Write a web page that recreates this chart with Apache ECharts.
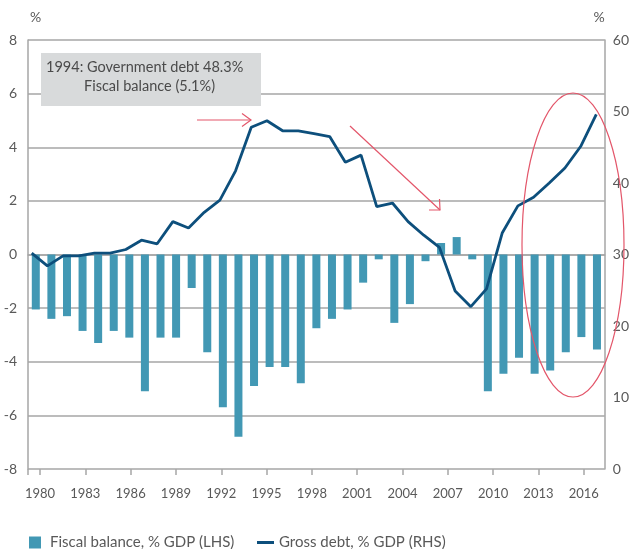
<!DOCTYPE html>
<html>
<head>
<meta charset="utf-8">
<script src="https://cdn.jsdelivr.net/npm/echarts@6/dist/echarts.min.js"></script>
<style>
  html, body { margin: 0; padding: 0; background: #fff; }
  #chart { width: 632px; height: 549px; }
</style>
</head>
<body>
<div id="chart"></div>
<script>
var years = [1980, 1981, 1982, 1983, 1984, 1985, 1986, 1987, 1988, 1989,
  1990, 1991, 1992, 1993, 1994, 1995, 1996, 1997, 1998, 1999,
  2000, 2001, 2002, 2003, 2004, 2005, 2006, 2007, 2008, 2009,
  2010, 2011, 2012, 2013, 2014, 2015, 2016]

// fiscal balance, % GDP (left axis)
var fiscalBalance = [-2.05, -2.4, -2.3, -2.85, -3.3, -2.85, -3.1, -5.1, -3.1, -3.1,
  -1.25, -3.65, -5.7, -6.8, -4.9, -4.2, -4.2, -4.8, -2.75, -2.4,
  -2.05, -1.05, -0.18, -2.55, -1.85, -0.25, 0.43, 0.65, -0.18, -5.1,
  -4.45, -3.85, -4.45, -4.33, -3.65, -3.08, -3.54]

// gross debt, % GDP (right axis)
var grossDebt = [30.2, 28.4, 29.8, 29.8, 30.2, 30.2, 30.7, 32.0, 31.5, 34.6,
  33.7, 35.9, 37.6, 41.7, 47.8, 48.7, 47.3, 47.3, 46.9, 46.5,
  42.9, 43.9, 36.7, 37.2, 34.6, 32.7, 31.0, 24.9, 22.7, 25.2,
  33.0, 36.8, 38.0, 40.0, 42.1, 45.1, 49.6]

var tickYears = [1980, 1983, 1986, 1989, 1992, 1995, 1998, 2001, 2004, 2007, 2010, 2013, 2016]

var barName = 'Fiscal balance, % GDP (LHS)'
var lineName = 'Gross debt, % GDP (RHS)'

var font = 'Lato, "Noto Sans", sans-serif'
var textColor = '#595959'
var axisGray = '#a6a6a6'
var red = '#e3566a'

var labelMin = 1979.206
var labelMax = 2017.39

var myChart = echarts.init(document.getElementById('chart'))

var option = {
  animation: false,
  textStyle: { fontFamily: font },
  grid: { left: 28, right: 27, top: 40, bottom: 80 },
  legend: [
    {
      data: [{ name: barName, icon: 'rect' }],
      left: 29, top: 535, padding: 0,
      itemWidth: 12, itemHeight: 12,
      textStyle: { fontSize: 15, color: textColor, fontFamily: font, padding: [0, 0, 0, 4] }
    },
    {
      data: [{ name: lineName, icon: 'rect' }],
      left: 257, top: 535, padding: 0,
      itemWidth: 17, itemHeight: 3,
      textStyle: { fontSize: 15, color: textColor, fontFamily: font }
    }
  ],
  xAxis: [
    {
      type: 'category',
      data: years,
      position: 'bottom',
      axisLine: { lineStyle: { color: axisGray, width: 1.5 } },
      axisTick: { show: false },
      axisLabel: { show: false },
      splitLine: { show: false }
    },
    {
      type: 'value',
      min: labelMin,
      max: labelMax,
      position: 'bottom',
      axisLine: { show: false },
      axisTick: {
        show: true, length: 6,
        customValues: [labelMin].concat(tickYears),
        lineStyle: { color: axisGray, width: 1.5 }
      },
      axisLabel: {
        customValues: tickYears,
        formatter: function (v) { return String(Math.round(v)) },
        margin: 18,
        fontSize: 13,
        color: textColor,
        fontFamily: font
      },
      splitLine: { show: false }
    },
    {
      type: 'value',
      min: 1979.764,
      max: 2016.54,
      position: 'top',
      show: false
    }
  ],
  yAxis: [
    {
      type: 'value',
      min: -8, max: 8, interval: 2,
      name: '%',
      nameGap: 16,
      nameTextStyle: { fontSize: 14, color: textColor, align: 'left', padding: [0, 0, 0, 2] },
      axisLine: { show: true, lineStyle: { color: axisGray, width: 1.5 } },
      axisTick: { show: false },
      axisLabel: { fontSize: 14, color: textColor, margin: 11 },
      splitLine: { lineStyle: { color: axisGray, width: 1.5 } }
    },
    {
      type: 'value',
      min: 0, max: 60, interval: 10,
      name: '%',
      nameGap: 16,
      nameTextStyle: { fontSize: 14, color: textColor, align: 'right' },
      position: 'right',
      axisLine: { show: true, lineStyle: { color: axisGray, width: 1.5 } },
      axisTick: { show: false },
      axisLabel: { fontSize: 14, color: textColor, margin: 8 },
      splitLine: { show: false }
    }
  ],
  series: [
    {
      name: barName,
      type: 'bar',
      xAxisIndex: 0,
      yAxisIndex: 0,
      data: fiscalBalance,
      barWidth: 8,
      itemStyle: { color: '#4298b4' }
    },
    {
      name: lineName,
      type: 'line',
      xAxisIndex: 2,
      yAxisIndex: 1,
      data: years.map(function (y, i) { return [y, grossDebt[i]] }),
      showSymbol: false,
      symbol: 'none',
      lineStyle: { color: '#0d4f7c', width: 2.8 },
      itemStyle: { color: '#0d4f7c' },
      z: 3
    }
  ],
  graphic: [
    {
      type: 'rect',
      shape: { x: 41, y: 53, width: 220, height: 53 },
      style: { fill: '#d8dadb' },
      z: 10
    },
    {
      type: 'text',
      x: 46, y: 67,
      style: { text: '1994: Government debt 48.3%', fontSize: 14.5, fill: '#4a4a4a', fontFamily: font, verticalAlign: 'middle' },
      z: 11
    },
    {
      type: 'text',
      x: 84, y: 86,
      style: { text: 'Fiscal balance (5.1%)', fontSize: 14.5, fill: '#4a4a4a', fontFamily: font, verticalAlign: 'middle' },
      z: 11
    },
    {
      type: 'line',
      shape: { x1: 197, y1: 120, x2: 251, y2: 120 },
      style: { stroke: red, lineWidth: 1.2 },
      z: 11
    },
    {
      type: 'polyline',
      shape: { points: [[242, 113.5], [251, 120], [242, 126.5]] },
      style: { stroke: red, lineWidth: 1.2, fill: null },
      z: 11
    },
    {
      type: 'line',
      shape: { x1: 350, y1: 126, x2: 440, y2: 210 },
      style: { stroke: red, lineWidth: 1.2 },
      z: 11
    },
    {
      type: 'polyline',
      shape: { points: [[429, 210], [440, 210], [439.5, 199]] },
      style: { stroke: red, lineWidth: 1.2, fill: null },
      z: 11
    },
    {
      type: 'ellipse',
      shape: { cx: 573, cy: 245, rx: 51, ry: 152 },
      style: { stroke: red, lineWidth: 1.2, fill: null },
      z: 11
    }
  ]
}

myChart.setOption(option)
</script>
</body>
</html>
